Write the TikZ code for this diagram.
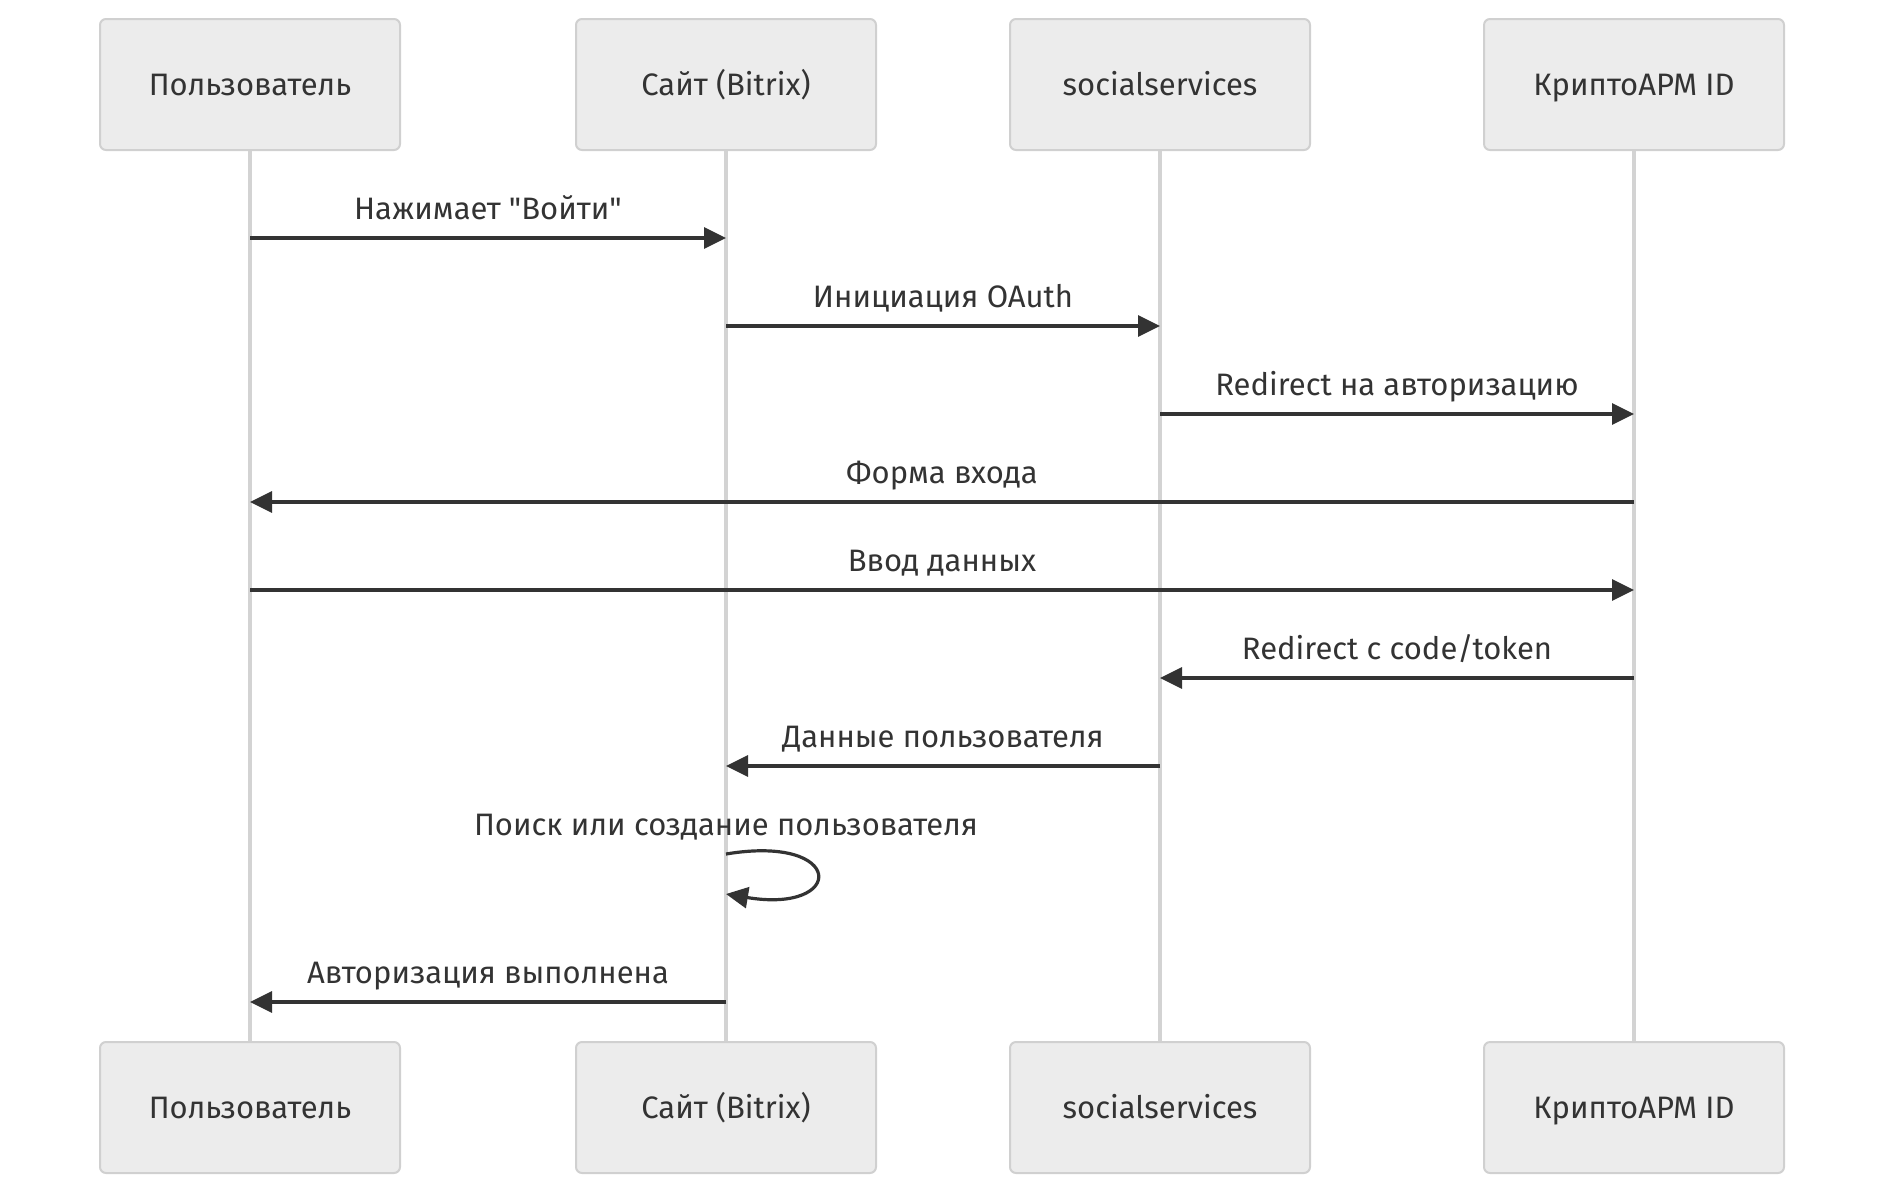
\documentclass[tikz,border=0pt]{standalone}
\usepackage{fontspec}
\setmainfont{Fira Sans}
\usepackage{tikz}
\usetikzlibrary{arrows.meta}

\definecolor{actorfill}{HTML}{ECECEC}
\definecolor{actordraw}{HTML}{D0D0D0}
\definecolor{lifegray}{HTML}{D3D3D3}
\definecolor{msgdark}{HTML}{333333}

\tikzset{
    actor/.style={draw=actordraw, line width=1pt, fill=actorfill, rounded corners=3pt,
        minimum width=150pt, minimum height=65.5pt, text height=11pt, text depth=0pt,
        text=msgdark, font=\fontsize{15.5}{19}\selectfont},
    life/.style={draw=lifegray, line width=1.75pt},
    msg/.style={draw=msgdark, line width=1.6pt, -{Triangle[length=11pt,width=10.5pt]}},
    msglabel/.style={anchor=base, yshift=9.5pt, text=msgdark, font=\fontsize{15.5}{19}\selectfont}
}

\begin{document}
\begin{tikzpicture}[x=0.5pt, y=-0.5pt]
    \useasboundingbox (0,0) rectangle (1884,1194);
    \node[actor] (user) at (250,84.5) {Пользователь};
    \node[actor] (site) at (726,84.5) {Сайт (Bitrix)};
    \node[actor] (social) at (1160,84.5) {socialservices};
    \node[actor] (crypto) at (1634,84.5) {КриптоАРМ ID};
    \node[actor] (user-end) at (250,1107.5) {Пользователь};
    \node[actor] (site-end) at (726,1107.5) {Сайт (Bitrix)};
    \node[actor] (social-end) at (1160,1107.5) {socialservices};
    \node[actor] (crypto-end) at (1634,1107.5) {КриптоАРМ ID};

    \draw[life] (user.south) -- (user-end.north);
    \draw[life] (site.south) -- (site-end.north);
    \draw[life] (social.south) -- (social-end.north);
    \draw[life] (crypto.south) -- (crypto-end.north);

    \coordinate (login) at (0,238);
    \coordinate (oauth) at (0,326);
    \coordinate (redirect) at (0,414);
    \coordinate (form) at (0,502);
    \coordinate (input) at (0,590);
    \coordinate (token) at (0,678);
    \coordinate (userdata) at (0,766);
    \coordinate (lookup) at (0,854);
    \coordinate (done) at (0,1002);

    \draw[msg] (user |- login) -- node[msglabel] {Нажимает \textquotedbl Войти\textquotedbl} (site |- login);
    \draw[msg] (site |- oauth) -- node[msglabel] {Инициация OAuth} (social |- oauth);
    \draw[msg] (social |- redirect) -- node[msglabel] {Redirect на авторизацию} (crypto |- redirect);
    \draw[msg] (crypto |- form) -- node[msglabel] {Форма входа} (user |- form);
    \draw[msg] (user |- input) -- node[msglabel] {Ввод данных} (crypto |- input);
    \draw[msg] (crypto |- token) -- node[msglabel] {Redirect с code/token} (social |- token);
    \draw[msg] (social |- userdata) -- node[msglabel] {Данные пользователя} (site |- userdata);
    \draw[msg] (site |- lookup) node[msglabel] {Поиск или создание пользователя}
        .. controls +(120,-20) and +(120,20) .. ++(0,40);
    \draw[msg] (site |- done) -- node[msglabel] {Авторизация выполнена} (user |- done);
\end{tikzpicture}
\end{document}
